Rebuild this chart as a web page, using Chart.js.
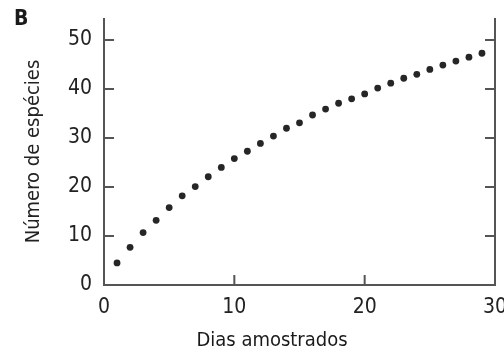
<!DOCTYPE html>
<html>
<head>
<meta charset="utf-8">
<script src="https://cdn.jsdelivr.net/npm/chart.js@4/dist/chart.umd.min.js"></script>
<style>
html,body{margin:0;padding:0;background:#fff;}
#wrap{position:relative;width:504px;height:358px;}
</style>
</head>
<body>
<div id="wrap"><canvas id="c" width="504" height="358"></canvas></div>
<script>
const days = [1,2,3,4,5,6,7,8,9,10,11,12,13,14,15,16,17,18,19,20,21,22,23,24,25,26,27,28,29];
const species = [4.5,7.7,10.7,13.2,15.8,18.2,20.1,22.1,24.0,25.8,27.3,28.9,30.4,32.0,33.1,34.7,35.9,37.1,38.0,39.0,40.2,41.2,42.2,43.0,44.0,44.9,45.7,46.5,47.3];
const xTicks = [0,10,20,30];
const yTicks = [0,10,20,30,40,50];
const xTitle = 'Dias amostrados';
const yTitle = 'Número de espécies';
const panelLabel = 'B';

const FONT = '"DejaVu Sans Condensed","DejaVu Sans",sans-serif';
const AXIS = '#555555';

const framePlugin = {
  id: 'frame',
  afterDraw(chart) {
    const {ctx, chartArea: a, scales} = chart;
    const xs = scales.x, ys = scales.y;
    ctx.save();
    ctx.strokeStyle = AXIS;
    ctx.lineWidth = 2;
    ctx.beginPath();
    ctx.moveTo(a.left, a.top); ctx.lineTo(a.left, a.bottom); ctx.lineTo(a.right, a.bottom); ctx.lineTo(a.right, a.top);
    ctx.stroke();
    const tl = 10;
    ctx.beginPath();
    xTicks.forEach(v => { const px = xs.getPixelForValue(v); ctx.moveTo(px, a.bottom); ctx.lineTo(px, a.bottom - tl); });
    yTicks.forEach(v => { const py = ys.getPixelForValue(v); ctx.moveTo(a.left, py); ctx.lineTo(a.left + tl, py); ctx.moveTo(a.right, py); ctx.lineTo(a.right - tl, py); });
    ctx.stroke();
    ctx.fillStyle = '#1a1a1a';
    ctx.font = 'bold 21px ' + FONT;
    ctx.textBaseline = 'top';
    ctx.textAlign = 'left';
    ctx.fillText(panelLabel, 14, 9);
    ctx.font = '20px ' + FONT;
    ctx.textAlign = 'center';
    ctx.textBaseline = 'middle';
    ctx.fillText(xTitle, 272, 341);
    ctx.restore();
  }
};

new Chart(document.getElementById('c'), {
  type: 'scatter',
  data: {
    datasets: [{
      data: days.map((d, i) => ({x: d, y: species[i]})),
      backgroundColor: '#262626',
      borderColor: '#262626',
      pointRadius: 3.4,
      pointStyle: 'circle',
      borderWidth: 0
    }]
  },
  options: {
    responsive: false,
    animation: false,
    layout: {padding: {left: 0, top: 18, right: 9, bottom: 0}},
    plugins: {legend: {display: false}, tooltip: {enabled: false}},
    scales: {
      x: {
        type: 'linear', min: 0, max: 30,
        afterBuildTicks: s => { s.ticks = xTicks.map(v => ({value: v})); },
        afterFit: s => { s.height = 73; s.paddingLeft = 0; s.paddingRight = 0; },
        grid: {display: false, drawTicks: false},
        border: {display: false},
        ticks: {color: '#222', font: {family: FONT, size: 21}, padding: 10, maxRotation: 0},
        title: {display: false}
      },
      y: {
        type: 'linear', min: 0, max: 54.5,
        afterBuildTicks: s => { s.ticks = yTicks.map(v => ({value: v})); },
        afterFit: s => { s.width = 104; s.paddingTop = 0; s.paddingBottom = 0; },
        grid: {display: false, drawTicks: false},
        border: {display: false},
        ticks: {color: '#222', font: {family: FONT, size: 21}, padding: 12},
        title: {display: true, text: yTitle, color: '#222', font: {family: FONT, size: 20}, padding: {top: 22, bottom: 0}}
      }
    }
  },
  plugins: [framePlugin]
});
</script>
</body>
</html>
